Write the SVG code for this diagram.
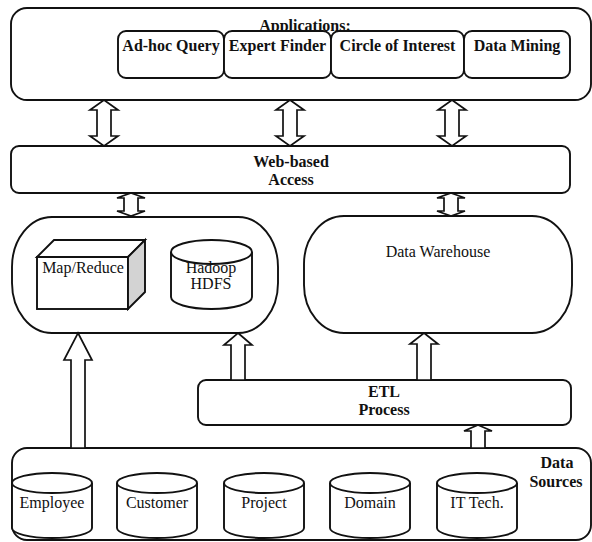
<svg xmlns="http://www.w3.org/2000/svg" width="592" height="542" viewBox="0 0 592 542">
<style>
.box{fill:#fff;stroke:#111;stroke-width:1.9}
.arr{fill:#fff;stroke:#111;stroke-width:1.7;stroke-linejoin:miter}
.b{font-family:"Liberation Serif","Times New Roman",serif;font-weight:bold;font-size:16px;fill:#111;text-anchor:middle}
.r{font-family:"Liberation Serif","Times New Roman",serif;font-size:16px;fill:#111;text-anchor:middle}
</style>
<rect width="592" height="542" fill="#fff"/>
<g id="applications">
<rect class="box" x="11" y="8" width="580" height="92" rx="16"/>
<text class="b" x="305" y="31">Applications:</text>
<g id="app-adhoc"><rect class="box" x="118" y="31" width="106" height="47" rx="8"/><text class="b" x="171" y="51">Ad-hoc Query</text></g>
<g id="app-expert"><rect class="box" x="224" y="31" width="107" height="47" rx="8"/><text class="b" x="277.5" y="51">Expert Finder</text></g>
<g id="app-circle"><rect class="box" x="331" y="31" width="133" height="47" rx="8"/><text class="b" x="397.5" y="51">Circle of Interest</text></g>
<g id="app-mining"><rect class="box" x="464" y="31" width="106" height="47" rx="8"/><text class="b" x="517" y="51">Data Mining</text></g>
</g>
<g id="web-access">
<rect class="box" x="11" y="146" width="559" height="47" rx="8"/>
<text class="b" x="291" y="167">Web-based</text>
<text class="b" x="291" y="185">Access</text>
</g>
<g id="hadoop">
<rect class="box" x="12" y="217" width="266" height="116" rx="40" ry="50"/>
<g id="mapreduce">
<rect class="box" x="37" y="257" width="91" height="52"/>
<polygon class="box" points="37,257 54,240 145,240 128,257"/>
<polygon class="box" style="fill:#d3d3d3" points="128,257 145,240 145,292 128,309"/>
<text class="r" x="83" y="273">Map/Reduce</text>
</g>
<g id="hdfs">
<path class="box" d="M171,252 L171,297 A40.5,12 0 0 0 252,297 L252,252"/>
<ellipse class="box" cx="211.5" cy="252" rx="40.5" ry="12"/>
<text class="r" x="211" y="273">Hadoop</text>
<text class="r" x="211" y="289">HDFS</text>
</g>
</g>
<g id="warehouse">
<rect class="box" x="304" y="216" width="268" height="117" rx="40" ry="48"/>
<text class="r" x="438" y="257">Data Warehouse</text>
</g>
<g id="etl">
<rect class="box" x="198" y="380" width="373" height="45" rx="8"/>
<text class="b" x="384" y="397">ETL</text>
<text class="b" x="384" y="415">Process</text>
</g>
<g id="data-sources">
<rect class="box" x="12" y="448" width="579" height="92" rx="15"/>
<text class="b" x="557" y="468">Data</text>
<text class="b" x="556" y="487">Sources</text>
<g id="ds-employee"><path class="box" d="M12,483 L12,528 A40,10 0 0 0 92,528 L92,483"/><ellipse class="box" cx="52" cy="483" rx="40" ry="10"/><text class="r" x="52" y="508">Employee</text></g>
<g id="ds-customer"><path class="box" d="M117,483 L117,528 A40,10 0 0 0 197,528 L197,483"/><ellipse class="box" cx="157" cy="483" rx="40" ry="10"/><text class="r" x="157" y="508">Customer</text></g>
<g id="ds-project"><path class="box" d="M224,483 L224,528 A40,10 0 0 0 304,528 L304,483"/><ellipse class="box" cx="264" cy="483" rx="40" ry="10"/><text class="r" x="264" y="508">Project</text></g>
<g id="ds-domain"><path class="box" d="M330,483 L330,528 A40,10 0 0 0 410,528 L410,483"/><ellipse class="box" cx="370" cy="483" rx="40" ry="10"/><text class="r" x="370" y="508">Domain</text></g>
<g id="ds-ittech"><path class="box" d="M437,483 L437,528 A40,10 0 0 0 517,528 L517,483"/><ellipse class="box" cx="477" cy="483" rx="40" ry="10"/><text class="r" x="477" y="508">IT Tech.</text></g>
</g>
<g id="connectors">
<path class="arr" d="M104,100 L118,110 L111,110 L111,136 L118,136 L104,146 L90,136 L97,136 L97,110 L90,110 Z"/>
<path class="arr" d="M290,100 L304,110 L297,110 L297,136 L304,136 L290,146 L276,136 L283,136 L283,110 L276,110 Z"/>
<path class="arr" d="M452,100 L466,110 L459,110 L459,136 L466,136 L452,146 L438,136 L445,136 L445,110 L438,110 Z"/>
<path class="arr" d="M131,193 L145,198 L138,198 L138,211 L145,211 L131,216 L117,211 L124,211 L124,198 L117,198 Z"/>
<path class="arr" d="M451,193 L465,198 L458,198 L458,211 L465,211 L451,216 L437,211 L444,211 L444,198 L437,198 Z"/>
<path class="arr" d="M78,333 L92,360 L85,360 L85,448 L71,448 L71,360 L64,360 Z"/>
<path class="arr" d="M238,333 L252,345 L245,345 L245,380 L231,380 L231,345 L224,345 Z"/>
<path class="arr" d="M424,333 L438,344 L431,344 L431,380 L417,380 L417,344 L410,344 Z"/>
<path class="arr" d="M478,425 L492,431 L485,431 L485,448 L471,448 L471,431 L464,431 Z"/>
</g>
</svg>
